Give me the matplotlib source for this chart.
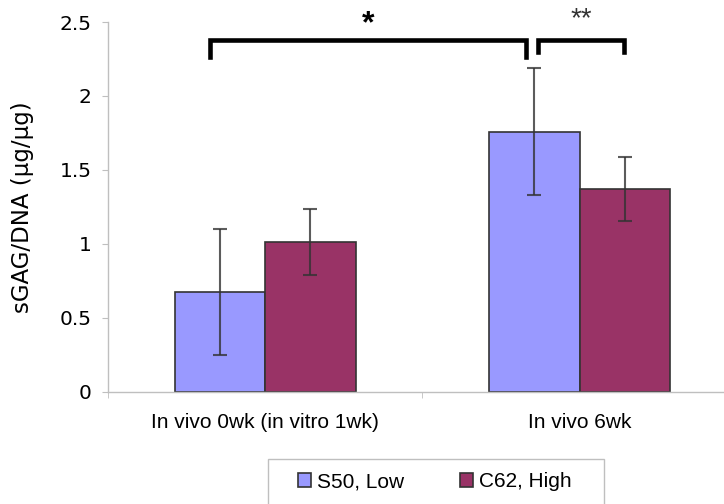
import numpy as np
import matplotlib
matplotlib.use('Agg')
import matplotlib.pyplot as plt

# sGAG/DNA content per time point for the two scaffolds
groups = ['In vivo 0wk (in vitro 1wk)', 'In vivo 6wk']
series_names = ['S50, Low', 'C62, High']
s50_mean = [0.672, 1.759]
s50_err = [0.425, 0.43]
c62_mean = [1.015, 1.371]
c62_err = [0.223, 0.219]
yticks = [0, 0.5, 1, 1.5, 2, 2.5]
ytick_labels = ['0', '0.5', '1', '1.5', '2', '2.5']

blue = '#9999FF'
purple = '#993366'
axis_gray = '#BFBFBF'

fig = plt.figure(figsize=(7.24, 5.04), dpi=100)
ax = fig.add_axes([108 / 724, 1 - 391.7 / 504, 628.7 / 724, 369.7 / 504])

x = np.arange(len(groups))
width = 0.288

err_kw = dict(ecolor='#333333', elinewidth=1.5, capsize=4.7, capthick=1.5, alpha=0.8)
ax.bar(x - width / 2, s50_mean, width, yerr=s50_err, color=blue,
       edgecolor='#333333', linewidth=1.2, error_kw=err_kw, label=series_names[0])
ax.bar(x + width / 2, c62_mean, width, yerr=c62_err, color=purple,
       edgecolor='#333333', linewidth=1.2, error_kw=err_kw, label=series_names[1])

ax.set_xlim(-0.5, len(groups) - 0.5)
ax.set_ylim(0, 2.5)
ax.set_yticks(yticks)
ax.set_yticklabels(ytick_labels, fontsize=14.5)
ax.set_ylabel('sGAG/DNA (\u00b5g/\u00b5g)', fontsize=16.5, labelpad=18)

# category labels sit between the boundary ticks
ax.set_xticks(x)
ax.set_xticklabels(groups, fontsize=15, family='Liberation Sans')
ax.set_xticks(np.arange(len(groups) + 1) - 0.5, minor=True)
ax.tick_params(axis='x', which='major', length=0, pad=15)
ax.tick_params(axis='x', which='minor', length=4, color=axis_gray, direction='out')
ax.tick_params(axis='y', length=4, color=axis_gray, pad=8)

for side in ['top', 'right']:
    ax.spines[side].set_visible(False)
for side in ['left', 'bottom']:
    ax.spines[side].set_color(axis_gray)
    ax.spines[side].set_linewidth(1.0)

# significance brackets
def bracket(x0, x1, y, y0, y1, label, dy, **text_kw):
    ax.plot([x0, x0, x1, x1], [y0, y, y, y1], color='black', lw=3.3,
            solid_joinstyle='miter', clip_on=False)
    ax.text((x0 + x1) / 2, y + dy, label, ha='center', va='center',
            clip_on=False, **text_kw)

b1 = x[0] - width / 2
b2 = x[1] - width / 2
c2 = x[1] + width / 2
bracket(b1 - 0.031, b2 - 0.025, 2.376, 2.265, 2.265, '*', 0.11,
        fontsize=23, fontweight='bold', family='Liberation Sans')
bracket(b2 + 0.013, c2 - 0.004, 2.376, 2.295, 2.295, '**', 0.14,
        fontsize=20, color='#333333', family='Liberation Sans')

# legend with a frame running off the bottom edge
frame = plt.Rectangle((267.7 / 724, -0.05), (604 - 267.7) / 724, 1 - 459.3 / 504 + 0.05,
                      transform=fig.transFigure, fill=False, edgecolor=axis_gray, lw=1.0)
fig.patches.append(frame)
handles, labels = ax.get_legend_handles_labels()
fig.legend(handles, labels, loc='center left', bbox_to_anchor=(297.7 / 724, 1 - 481.7 / 504),
           ncol=2, frameon=False, borderpad=0, borderaxespad=0,
           prop={'family': 'Liberation Sans', 'size': 15},
           handlelength=0.625, handleheight=0.625, handletextpad=0.29, columnspacing=2.7)

fig.savefig('out.png', dpi=100)
plt.close(fig)
